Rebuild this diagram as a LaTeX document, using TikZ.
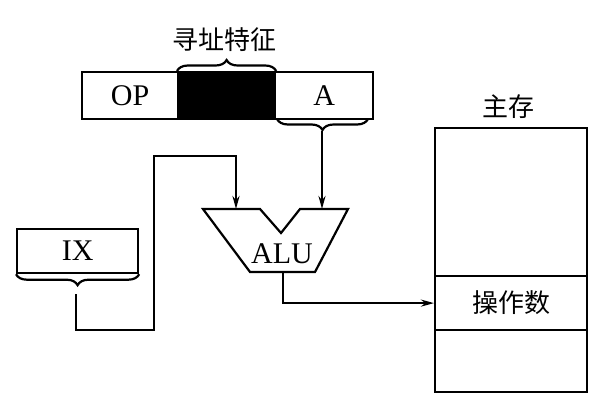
\documentclass[tikz,border=0pt]{standalone}
\usepackage{fontspec}
\setmainfont{Liberation Serif}
\newfontfamily\cjk{Noto Sans CJK SC}
\usetikzlibrary{decorations.pathreplacing,arrows.meta}
\begin{document}
\begin{tikzpicture}[x=1pt,y=-1pt,line width=2.2pt,
  cell/.style={draw, minimum height=47pt, inner sep=0pt, anchor=north west},
  lab/.style={font=\fontsize{30}{30}\selectfont},
  cjklab/.style={font=\cjk\fontsize{26}{26}\selectfont},
  brc/.style={decorate, decoration={brace, amplitude=11pt}},
  arr/.style={-{Stealth[length=13pt,width=7pt]}}]
\useasboundingbox (0,0) rectangle (607,415);
% instruction register
\node[cell, minimum width=96pt, lab] (op) at (81,71) {OP};
\node[cell, minimum width=97pt, fill=black] (mode) at (177,71) {};
\node[cell, minimum width=98pt, lab] (a) at (274,71) {A};
\draw[brc] (mode.north west) -- (mode.north east);
\node[cjklab] (modelab) at (224,40) {寻址特征};
\draw[brc] (368,119) -- (277,119);
\coordinate (atip) at (322,131);
% IX register
\node[cell, minimum width=121pt, minimum height=44pt, lab] (ix) at (16,228) {IX};
\draw[brc] (ix.south east) -- (ix.south west);
\coordinate (ixtip) at (76,294);
% ALU
\draw (203,209) -- (260,209) -- (281,233) -- (300,209) -- (348,209) -- (315,272) -- (250,272) -- cycle;
\node[lab] (alu) at (282,254) {ALU};
\coordinate (aluin1) at (236,209);
\coordinate (aluin2) at (322,209);
\coordinate (aluout) at (283,272);
% memory
\node[draw, minimum width=152pt, minimum height=264pt, inner sep=0pt, anchor=north west] (mem) at (434,127) {};
\node[cjklab] (memlab) at (508,107) {主存};
\node[draw, minimum width=152pt, minimum height=54pt, inner sep=0pt, anchor=north west, cjklab] (opnd) at (434,275) {操作数};
% connectors
\draw[arr] (atip) -- (aluin2);
\draw[arr] (ixtip) |- (154,330) -- (154,156) -| (aluin1);
\draw[arr] (aluout) |- (opnd.west);
\end{tikzpicture}
\end{document}
